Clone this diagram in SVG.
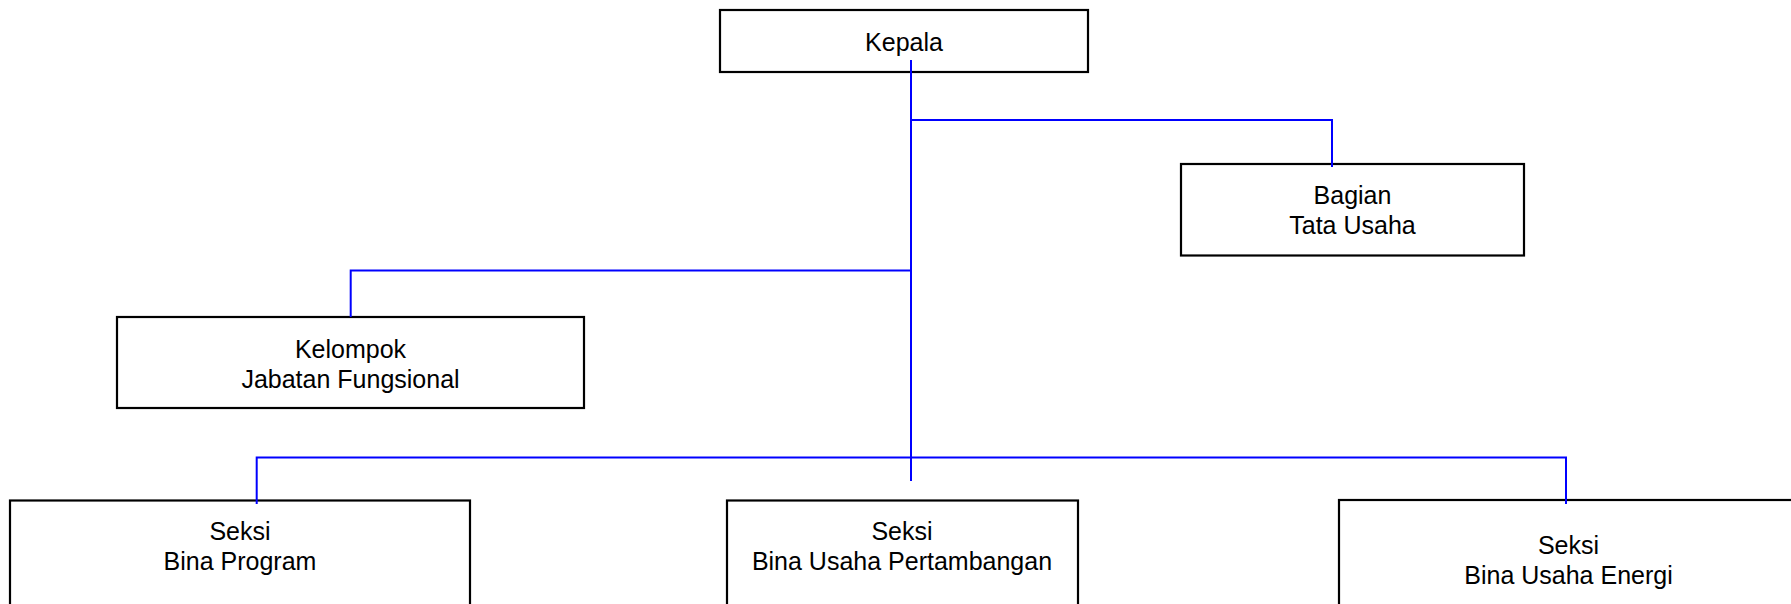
<svg xmlns="http://www.w3.org/2000/svg" width="1791" height="604" viewBox="0 0 1791 604">
<style>
.box{fill:#fff;stroke:#000;stroke-width:2.2}
.lbl{font-family:"Liberation Sans",Arial,sans-serif;font-size:25px;fill:#000;text-anchor:middle}
.con{fill:none;stroke:#0000ff;stroke-width:2}
</style>
<rect width="1791" height="604" fill="#fff"/>
<g id="n-kepala"><rect class="box" x="720" y="10" width="368" height="62"/><text class="lbl" x="904" y="50.5">Kepala</text></g>
<g id="n-bagian"><rect class="box" x="1181" y="164" width="343" height="91.5"/><text class="lbl" x="1352.5" y="203.5">Bagian</text><text class="lbl" x="1352.5" y="233.5">Tata Usaha</text></g>
<g id="n-kelompok"><rect class="box" x="117" y="317" width="467" height="91"/><text class="lbl" x="350.5" y="357.5">Kelompok</text><text class="lbl" x="350.5" y="387.5">Jabatan Fungsional</text></g>
<g id="n-program"><rect class="box" x="10" y="500.5" width="460" height="130"/><text class="lbl" x="240" y="540">Seksi</text><text class="lbl" x="240" y="569.5">Bina Program</text></g>
<g id="n-pertambangan"><rect class="box" x="727" y="500.5" width="351" height="130"/><text class="lbl" x="902" y="540">Seksi</text><text class="lbl" x="902" y="569.5">Bina Usaha Pertambangan</text></g>
<g id="n-energi"><rect class="box" x="1339" y="500" width="470" height="130"/><text class="lbl" x="1568.5" y="553.5">Seksi</text><text class="lbl" x="1568.5" y="583.5">Bina Usaha Energi</text></g>
<g id="connectors">
<path class="con" d="M911 60V481"/>
<path class="con" d="M911 120H1332V167"/>
<path class="con" d="M911 270.5H350.7V317"/>
<path class="con" d="M256.7 504V457.5H1566V504"/>
</g>
</svg>
